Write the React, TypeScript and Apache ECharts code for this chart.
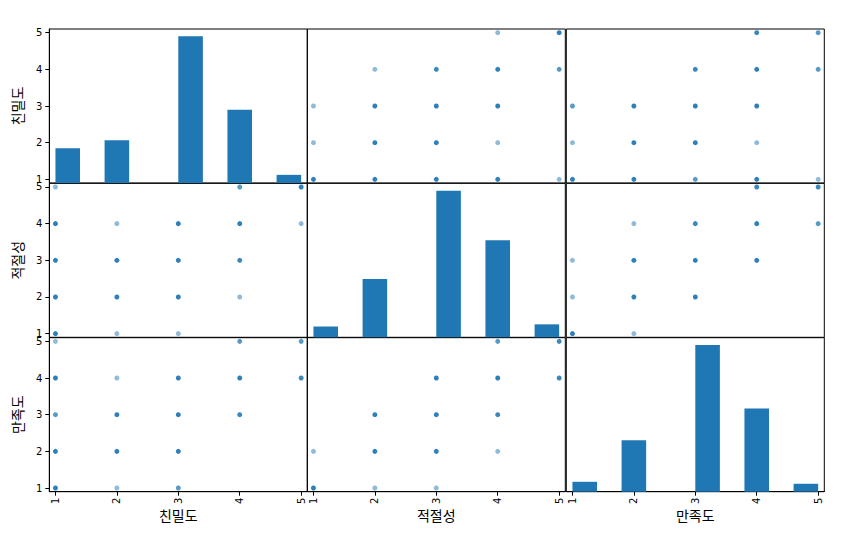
import React, { useEffect, useRef } from "react";
import * as echarts from "echarts";

const variables = ["친밀도", "적절성", "만족도"];
const scores = [1, 2, 3, 4, 5];

// histogram counts per score (1..5)
const closenessCounts = [17, 21, 72, 36, 4];
const suitabilityCounts = [5, 27, 68, 45, 6];
const satisfactionCounts = [5, 26, 74, 42, 4];

// [x, y, approx. number of overlapping respondents]
const closenessSuitability = [
  [1, 5, 1], [4, 5, 2], [5, 5, 4],
  [1, 4, 4], [2, 4, 1], [3, 4, 4], [4, 4, 4], [5, 4, 1],
  [1, 3, 4], [2, 3, 4], [3, 3, 4], [4, 3, 3],
  [1, 2, 4], [2, 2, 4], [3, 2, 4], [4, 2, 1],
  [1, 1, 4], [2, 1, 1], [3, 1, 1],
];
const closenessSatisfaction = [
  [1, 5, 1], [4, 5, 2], [5, 5, 2],
  [1, 4, 4], [2, 4, 1], [3, 4, 4], [4, 4, 4], [5, 4, 3],
  [1, 3, 2], [2, 3, 4], [3, 3, 4], [4, 3, 3],
  [1, 2, 4], [2, 2, 4], [3, 2, 4],
  [1, 1, 4], [2, 1, 1], [3, 1, 2],
];
const suitabilitySatisfaction = [
  [4, 5, 2], [5, 5, 3],
  [3, 4, 4], [4, 4, 4], [5, 4, 3],
  [2, 3, 4], [3, 3, 4], [4, 3, 3],
  [1, 2, 1], [2, 2, 4], [3, 2, 4], [4, 2, 1],
  [1, 1, 4], [2, 1, 1], [3, 1, 1],
];

const BLUE = "#1f77b4";
const colLeft = [49.3, 307.3, 566.3];
const rowTop = [29, 183.3, 337.7];
const PW = 258;
const PH = 154;
const LO = 0.9;
const HI = 5.1;

function histBins(counts: number[]) {
  // matplotlib default: 10 bins between min (1) and max (5)
  const width = (scores[scores.length - 1] - scores[0]) / 10;
  return scores.map((s, k) => {
    const idx = Math.min(Math.floor((s - scores[0]) / width + 1e-9), 9);
    const x0 = scores[0] + idx * width;
    return [x0, x0 + width, counts[k]];
  });
}

function pairData(a: number, b: number): number[][] {
  // a = x variable index, b = y variable index
  const key = [a, b].sort().join("");
  const src = key === "01" ? closenessSuitability : key === "02" ? closenessSatisfaction : suitabilitySatisfaction;
  return a < b ? src : src.map(([x, y, n]) => [y, x, n]);
}

const tickFont = { fontFamily: "DejaVu Sans", fontSize: 10, color: "#000" };
const nameFont = { fontFamily: "Noto Sans CJK KR", fontSize: 14, color: "#000" };

export default function App() {
  const ref = useRef<HTMLDivElement>(null);
  useEffect(() => {
    if (!ref.current) return;
    const chart = echarts.init(ref.current, undefined, { renderer: "svg" });
    const countsList = [closenessCounts, suitabilityCounts, satisfactionCounts];
    const grid: any[] = [];
    const xAxis: any[] = [];
    const yAxis: any[] = [];
    const series: any[] = [];
    for (let i = 0; i < 3; i++) {
      for (let j = 0; j < 3; j++) {
        const g = grid.length;
        grid.push({
          left: colLeft[j], top: rowTop[i], width: PW, height: PH,
          show: true, borderColor: "#000", borderWidth: 1, backgroundColor: "transparent",
        });
        const showX = i === 2;
        const showY = j === 0;
        const xi = xAxis.length;
        xAxis.push({
          type: "value", gridIndex: g, min: LO, max: HI, position: "bottom",
          axisLine: { show: showX, lineStyle: { color: "#000", width: 1 } },
          axisTick: { show: showX, length: 4, customValues: scores, lineStyle: { color: "#000" } },
          axisLabel: { show: showX, rotate: 90, margin: 6, customValues: scores, ...tickFont },
          splitLine: { show: false },
          name: showX ? variables[j] : "",
          nameLocation: "middle", nameGap: 15, nameTextStyle: nameFont,
        });
        // display y-axis (value scale 1..5)
        const yi = yAxis.length;
        yAxis.push({
          type: "value", gridIndex: g, min: LO, max: HI, position: "left",
          axisLine: { show: showY, lineStyle: { color: "#000", width: 1 } },
          axisTick: { show: showY, length: 4, customValues: scores, lineStyle: { color: "#000" } },
          axisLabel: { show: showY, margin: 7, customValues: scores, ...tickFont },
          splitLine: { show: false },
          name: showY ? variables[i] : "",
          nameLocation: "middle", nameRotate: 90, nameGap: 25, nameTextStyle: nameFont,
        });
        if (i === j) {
          const counts = countsList[i];
          const yc = yAxis.length;
          yAxis.push({
            type: "value", gridIndex: g, min: 0, max: Math.max(...counts) * 1.05,
            position: "right", show: false,
          });
          series.push({
            type: "custom", xAxisIndex: xi, yAxisIndex: yc,
            data: histBins(counts),
            encode: { x: [0, 1], y: 2 },
            renderItem: (_p: any, api: any) => {
              const p0 = api.coord([api.value(0), api.value(2)]);
              const p1 = api.coord([api.value(1), 0]);
              return {
                type: "rect",
                shape: { x: p0[0], y: p0[1], width: p1[0] - p0[0], height: p1[1] - p0[1] },
                style: { fill: BLUE },
              };
            },
          });
        } else {
          series.push({
            type: "scatter", xAxisIndex: xi, yAxisIndex: yi, symbolSize: 5,
            data: pairData(j, i).map(([x, y, n]) => ({
              value: [x, y],
              itemStyle: { color: BLUE, opacity: 1 - Math.pow(0.5, n) },
            })),
          });
        }
      }
    }
    chart.setOption({
      animation: false,
      backgroundColor: "#fff",
      grid, xAxis, yAxis, series,
    });
    return () => chart.dispose();
  }, []);
  return (
    <div
      ref={ref}
      style={{ position: "absolute", left: 0, top: 0, width: 859, height: 541 }}
    />
  );
}
